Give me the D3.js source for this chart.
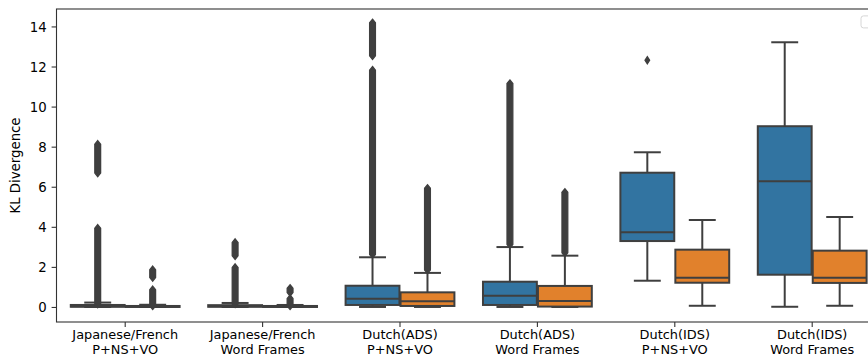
<!DOCTYPE html>
<html>
<head>
<meta charset="utf-8">
<script src="https://cdn.jsdelivr.net/npm/d3@7/dist/d3.min.js"></script>
<style>
  html, body { margin: 0; padding: 0; background: #fff; }
  svg { display: block; }
  text { font-family: "DejaVu Sans", sans-serif; }
</style>
</head>
<body>
<svg id="chart" width="868" height="357"></svg>
<script>
// Categories on the x axis (two-line labels)
const categories = [
  "Japanese/French\nP+NS+VO",
  "Japanese/French\nWord Frames",
  "Dutch(ADS)\nP+NS+VO",
  "Dutch(ADS)\nWord Frames",
  "Dutch(IDS)\nP+NS+VO",
  "Dutch(IDS)\nWord Frames"
];

// Two hue groups drawn side by side in every category
const hues = ["blue", "orange"];
const hueColors = ["#3274a1", "#e1812c"];

// Box statistics for the first (blue) group, one value per category
const blueWhiskerLow  = [0.00, 0.00, 0.00, 0.00, 1.31, 0.01];
const blueQ1          = [0.01, 0.01, 0.10, 0.10, 3.29, 1.61];
const blueMedian      = [0.04, 0.03, 0.41, 0.56, 3.73, 6.27];
const blueQ3          = [0.10, 0.09, 1.06, 1.26, 6.70, 9.02];
const blueWhiskerHigh = [0.22, 0.20, 2.48, 2.99, 7.72, 13.21];

// Box statistics for the second (orange) group
const orangeWhiskerLow  = [0.00, 0.00, 0.00, 0.00, 0.06, 0.06];
const orangeQ1          = [0.00, 0.00, 0.05, 0.02, 1.21, 1.20];
const orangeMedian      = [0.02, 0.02, 0.28, 0.30, 1.46, 1.46];
const orangeQ3          = [0.05, 0.05, 0.73, 1.05, 2.86, 2.81];
const orangeWhiskerHigh = [0.11, 0.10, 1.70, 2.56, 4.34, 4.49];

// Outliers: [low, high] spans of densely packed fliers; low == high is a single flier
const blueFliers = [
  [[0.14, 3.93], [6.68, 8.12]],
  [[0.15, 1.97], [2.55, 3.22]],
  [[2.62, 11.82], [12.53, 14.18]],
  [[3.12, 11.15]],
  [[12.31, 12.31]],
  []
];
const orangeFliers = [
  [[0.05, 0.86], [1.47, 1.86]],
  [[0.05, 0.42], [0.72, 0.93]],
  [[1.85, 5.92]],
  [[2.70, 5.72]],
  [],
  []
];

// Axis settings
const yTicks = [0, 2, 4, 6, 8, 10, 12, 14];
const yLimits = [-0.75, 14.87];
const yLabel = "KL Divergence";

// ---- layout ----
const plot = { left: 56.5, right: 880.9, top: 9, bottom: 322 };
const gray = "#3f3f3f";
const boxLine = 2.0;
const fontSize = 13.3;
const xLabelSize = 12.9;
const tickLen = 4.9, tickPad = 4.9;

const svg = d3.select("#chart");

const x = d3.scaleBand().domain(categories).range([plot.left, plot.right]).padding(0);
const step = x.bandwidth();
const xHue = d3.scaleBand().domain(hues).range([-0.4 * step, 0.4 * step]).padding(0);
const boxW = xHue.bandwidth() * 0.98;
const y = d3.scaleLinear().domain(yLimits).range([plot.bottom, plot.top]);

const groups = [
  { color: hueColors[0], hue: hues[0], lo: blueWhiskerLow, q1: blueQ1, med: blueMedian, q3: blueQ3, hi: blueWhiskerHigh, fliers: blueFliers },
  { color: hueColors[1], hue: hues[1], lo: orangeWhiskerLow, q1: orangeQ1, med: orangeMedian, q3: orangeQ3, hi: orangeWhiskerHigh, fliers: orangeFliers }
];

const boxes = [];
groups.forEach(g => {
  categories.forEach((c, i) => {
    boxes.push({
      cx: x(c) + step / 2 + xHue(g.hue) + xHue.bandwidth() / 2,
      color: g.color,
      lo: g.lo[i], q1: g.q1[i], med: g.med[i], q3: g.q3[i], hi: g.hi[i],
      fliers: g.fliers[i]
    });
  });
});

const marks = svg.append("g");

// boxes
marks.selectAll("rect.box").data(boxes).join("rect")
  .attr("class", "box")
  .attr("x", d => d.cx - boxW / 2)
  .attr("width", boxW)
  .attr("y", d => y(d.q3))
  .attr("height", d => Math.max(0, y(d.q1) - y(d.q3)))
  .attr("fill", d => d.color)
  .attr("stroke", gray)
  .attr("stroke-width", boxLine);

// whiskers
const whiskers = boxes.flatMap(d => [
  { cx: d.cx, a: d.q3, b: d.hi },
  { cx: d.cx, a: d.q1, b: d.lo }
]);
marks.selectAll("line.whisker").data(whiskers).join("line")
  .attr("x1", d => d.cx).attr("x2", d => d.cx)
  .attr("y1", d => y(d.a)).attr("y2", d => y(d.b))
  .attr("stroke", gray).attr("stroke-width", boxLine);

// caps
const caps = boxes.flatMap(d => [{ cx: d.cx, v: d.hi }, { cx: d.cx, v: d.lo }]);
marks.selectAll("line.cap").data(caps).join("line")
  .attr("x1", d => d.cx - boxW / 4).attr("x2", d => d.cx + boxW / 4)
  .attr("y1", d => y(d.v)).attr("y2", d => y(d.v))
  .attr("stroke", gray).attr("stroke-width", boxLine);

// medians
marks.selectAll("line.median").data(boxes).join("line")
  .attr("x1", d => d.cx - boxW / 2).attr("x2", d => d.cx + boxW / 2)
  .attr("y1", d => y(d.med)).attr("y2", d => y(d.med))
  .attr("stroke", gray).attr("stroke-width", boxLine);

// fliers: thin diamonds; a span of stacked fliers is drawn as one elongated diamond
const hh = 3.6;
function flierPath(cx, lo, hi) {
  const hw = hi > lo ? 2.9 : 2.3;
  const yt = y(hi), yb = y(lo);
  return `M${cx},${yt - hh}L${cx + hw},${yt}L${cx + hw},${yb}L${cx},${yb + hh}L${cx - hw},${yb}L${cx - hw},${yt}Z`;
}
const flierSpans = boxes.flatMap(d => d.fliers.map(f => ({ cx: d.cx, lo: f[0], hi: f[1] })));
marks.selectAll("path.flier").data(flierSpans).join("path")
  .attr("d", d => flierPath(d.cx, d.lo, d.hi))
  .attr("fill", gray)
  .attr("stroke", gray)
  .attr("stroke-width", 1.3)
  .attr("stroke-linejoin", "miter");

// frame
svg.append("rect")
  .attr("x", plot.left).attr("y", plot.top)
  .attr("width", plot.right - plot.left).attr("height", plot.bottom - plot.top)
  .attr("fill", "none").attr("stroke", "#333").attr("stroke-width", 1.1);

// y axis
const yAxis = svg.append("g")
  .attr("transform", `translate(${plot.left},0)`)
  .call(d3.axisLeft(y).tickValues(yTicks).tickSize(tickLen).tickPadding(tickPad).tickFormat(d3.format("d")));
yAxis.select(".domain").remove();
yAxis.selectAll(".tick line").attr("stroke", "#333").attr("stroke-width", 1.1);
yAxis.selectAll(".tick text")
  .attr("font-size", fontSize).attr("fill", "#000")
  .attr("font-family", "DejaVu Sans").attr("dy", "0.36em");

// x axis with two-line category labels
const xAxis = svg.append("g")
  .attr("transform", `translate(0,${plot.bottom})`)
  .call(d3.axisBottom(x).tickSize(tickLen).tickFormat(""));
xAxis.select(".domain").remove();
xAxis.selectAll(".tick line").attr("stroke", "#333").attr("stroke-width", 1.1);
xAxis.selectAll(".tick text").remove();
xAxis.selectAll(".tick").each(function(d) {
  const t = d3.select(this).append("text")
    .attr("text-anchor", "middle")
    .attr("font-size", xLabelSize)
    .attr("font-family", "DejaVu Sans")
    .attr("fill", "#000");
  d.split("\n").forEach((line, k) => {
    t.append("tspan").attr("x", 0).attr("y", 16.9 + k * 15.0).text(line);
  });
});

// y axis title
svg.append("text")
  .attr("transform", `translate(20,${(plot.top + plot.bottom) / 2}) rotate(-90)`)
  .attr("text-anchor", "middle")
  .attr("font-size", fontSize)
  .attr("fill", "#000")
  .text(yLabel);

// empty legend frame in the upper-right corner
svg.append("rect")
  .attr("x", plot.right - 6.9 - 13).attr("y", plot.top + 6.9)
  .attr("width", 13).attr("height", 12).attr("rx", 2.5)
  .attr("fill", "#fff").attr("fill-opacity", 0.8)
  .attr("stroke", "#d6d6d6").attr("stroke-width", 1);
</script>
</body>
</html>
